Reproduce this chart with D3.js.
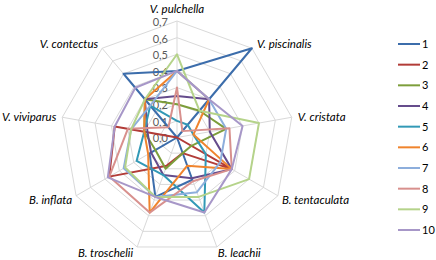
<!DOCTYPE html>
<html>
<head>
<meta charset="utf-8">
<script src="https://cdnjs.cloudflare.com/ajax/libs/d3/7.8.5/d3.min.js"></script>
<style>
  body { margin: 0; background: #fff; }
  svg { display: block; }
</style>
</head>
<body>
<div id="chart"></div>
<script>
// Axis names, clockwise from the top
const axes = ["V. pulchella", "V. piscinalis", "V. cristata", "B. tentaculata", "B. leachii",
              "B. troschelii", "B. inflata", "V. viviparus", "V. contectus"];
const seriesNames = ["1", "2", "3", "4", "5", "6", "7", "8", "9", "10"];
const ticks = [0, 0.1, 0.2, 0.3, 0.4, 0.5, 0.6, 0.7];
const colors = ["#3C6DAB", "#B23C38", "#7D9E3B", "#654C8C", "#3299B6", "#F0842D",
                "#8DAEDC", "#D8908D", "#B5D38A", "#A797C8"];

// Series values, in axis order
const s1 = [0.4, 0.7, 0, 0, 0.27, 0.38, 0.19, 0, 0.5];
const s2 = [0, 0, 0, 0.38, 0.1, 0.18, 0.47, 0.38, 0];
const s3 = [0.2, 0.21, 0.3, 0.1, 0.1, 0.2, 0.15, 0.2, 0.3];
const s4 = [0.25, 0.3, 0.2, 0.38, 0.26, 0.24, 0.18, 0.18, 0.3];
const s5 = [0.1, 0.1, 0.1, 0.2, 0.48, 0.24, 0.28, 0.2, 0.25];
const s6 = [0.4, 0.3, 0.1, 0.38, 0.18, 0.48, 0.2, 0.2, 0.3];
const s7 = [0.4, 0.3, 0.3, 0.3, 0.35, 0.38, 0.37, 0.28, 0.25];
const s8 = [0.3, 0.05, 0.32, 0.38, 0.28, 0.48, 0.47, 0.3, 0.08];
const s9 = [0.5, 0.21, 0.5, 0.5, 0.38, 0.38, 0.36, 0.28, 0.3];
const s10 = [0.4, 0.3, 0.4, 0.38, 0.48, 0.38, 0.48, 0.38, 0.39];
const allSeries = [s1, s2, s3, s4, s5, s6, s7, s8, s9, s10];

const width = 436, height = 260;
const cx = 177, cy = 137.5, radius = 116.5;

const svg = d3.select("#chart").append("svg")
    .attr("width", width)
    .attr("height", height);

const r = d3.scaleLinear().domain([0, 0.7]).range([0, radius]);
const angle = d3.scaleLinear().domain([0, axes.length]).range([0, 2 * Math.PI]);

const g = svg.append("g").attr("transform", `translate(${cx},${cy})`);

const pt = (i, v) => [r(v) * Math.sin(angle(i)), -r(v) * Math.cos(angle(i))];

// Grid rings
const ring = d3.line();
ticks.slice(1).forEach(t => {
    const pts = axes.map((a, i) => pt(i, t));
    g.append("path")
        .attr("d", ring(pts) + "Z")
        .attr("fill", "none")
        .attr("stroke", "#D9D9D9")
        .attr("stroke-width", 1);
});

// Spokes
axes.forEach((a, i) => {
    const [x, y] = pt(i, 0.7);
    g.append("line")
        .attr("x1", 0).attr("y1", 0)
        .attr("x2", x).attr("y2", y)
        .attr("stroke", "#D9D9D9")
        .attr("stroke-width", 1);
});

// Tick labels along the top spoke
g.selectAll(".tick")
    .data(ticks)
    .enter()
    .append("text")
    .attr("x", -9)
    .attr("y", d => -r(d) + 1)
    .attr("dy", "0.35em")
    .attr("text-anchor", "end")
    .attr("font-family", "Lato, 'Open Sans', sans-serif")
    .attr("font-size", 11)
    .attr("fill", "#595959")
    .text(d => d3.format(".1f")(d).replace(".", ","));

// Series lines
const line = d3.line().x(d => d[0]).y(d => d[1]);
allSeries.forEach((vals, k) => {
    const pts = vals.map((v, i) => pt(i, v));
    g.append("path")
        .attr("d", line(pts) + "Z")
        .attr("fill", "none")
        .attr("stroke", colors[k])
        .attr("stroke-width", 2)
        .attr("stroke-linejoin", "round");
});

// Axis labels
const labelOffsets = [
    { dx: 0, dy: -12, anchor: "middle" },
    { dx: 5, dy: -4, anchor: "start" },
    { dx: 6, dy: 0, anchor: "start" },
    { dx: 4, dy: 4, anchor: "start" },
    { dx: 1, dy: 6, anchor: "start" },
    { dx: -4, dy: 6, anchor: "end" },
    { dx: -4, dy: 4, anchor: "end" },
    { dx: -6, dy: 0, anchor: "end" },
    { dx: -4, dy: -4, anchor: "end" }
];
axes.forEach((a, i) => {
    const [x, y] = pt(i, 0.7);
    const o = labelOffsets[i];
    g.append("text")
        .attr("x", x + o.dx)
        .attr("y", y + o.dy)
        .attr("dy", "0.35em")
        .attr("text-anchor", o.anchor)
        .attr("font-family", "Lato, 'Open Sans', sans-serif")
        .attr("font-style", "italic")
        .attr("font-size", 11.5)
        .attr("fill", "#000")
        .text(a);
});

// Legend
const legend = svg.append("g").attr("transform", "translate(398,44)");
const ly = d3.scalePoint().domain(seriesNames).range([0, 186]);
seriesNames.forEach((name, k) => {
    legend.append("line")
        .attr("x1", 0).attr("x2", 22)
        .attr("y1", ly(name)).attr("y2", ly(name))
        .attr("stroke", colors[k])
        .attr("stroke-width", 2);
    legend.append("text")
        .attr("x", 24)
        .attr("y", ly(name))
        .attr("dy", "0.35em")
        .attr("font-family", "Lato, 'Open Sans', sans-serif")
        .attr("font-size", 11)
        .attr("fill", "#000")
        .text(name);
});
</script>
</body>
</html>
